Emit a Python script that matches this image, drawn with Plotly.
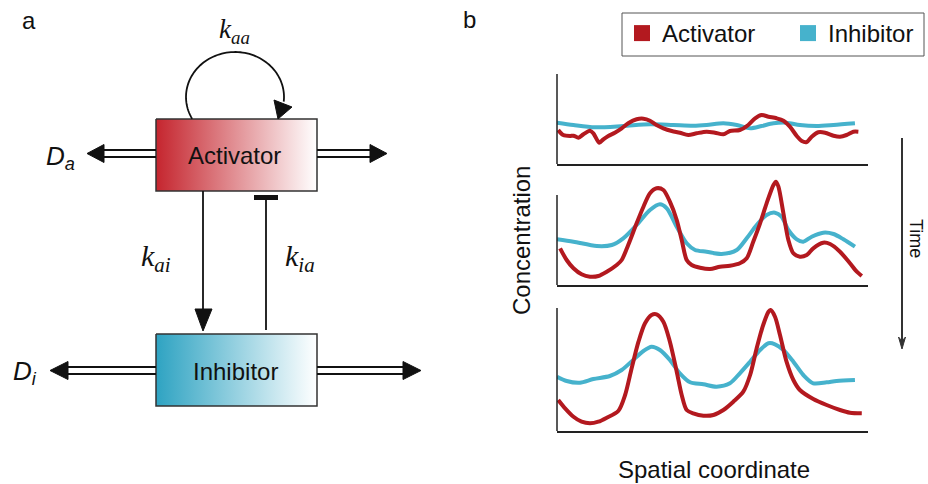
import numpy as np
import plotly.graph_objects as go

# ---------------- data (panel b) ----------------
# spatial coordinate runs 0..100, concentration in arbitrary units
x_act_t1 = [0.4, 2.0, 4.2, 5.3, 6.9, 8.5, 10.6, 11.7, 13.6, 14.9, 16.5, 18.6, 20.8, 22.9, 25.6,
            27.8, 29.9, 32.0, 34.2, 36.9, 39.5, 42.2, 44.9, 48.1, 50.8, 53.5, 55.6, 58.8, 61.5,
            63.7, 65.8, 68.0, 70.6, 72.8, 74.9, 77.1, 78.7, 80.3, 81.9, 84.0, 86.2, 88.9, 91.0,
            93.1, 95.3, 96.9]
y_act_t1 = [34, 29, 28, 28.3, 26.3, 29.7, 33.3, 30.7, 21.3, 24.7, 28, 31.3, 35.7, 40.7, 44.7,
            45.3, 43.3, 39, 35.7, 33, 31.3, 29, 30.7, 32.3, 31.3, 29.7, 33, 34, 39,
            45.7, 49, 47.3, 45.7, 43.3, 37.3, 28, 23, 22, 27.3, 31.7, 31.3, 28.3, 27.3,
            29, 32.3, 32.3]
x_inh_t1 = [0, 5.3, 12.2, 21.3, 29.9, 37.4, 43.8, 48.1, 53.5, 57.8, 62.1, 65.8, 69.6, 73.8,
            78.1, 83.5, 88.9, 95.8]
y_inh_t1 = [41.3, 39, 36.7, 38, 39.7, 39, 38.3, 39, 40.7, 39, 35.7, 38, 40.7, 41.3,
            39, 38, 39, 40.7]

x_act_t2 = [1.0, 3.1, 5.3, 7.9, 10.6, 13.3, 16.0, 19.2, 20.8, 22.9, 25.6, 27.8, 29.9, 32.0, 34.2,
            36.3, 38.5, 40.1, 41.7, 43.3, 46.0, 49.2, 52.4, 55.6, 58.8, 61.0, 63.1, 65.3, 67.4,
            69.6, 70.4, 71.2, 72.8, 74.4, 76.0, 78.1, 80.3, 82.4, 85.6, 87.8, 91.0, 94.2, 96.4, 98.0]
y_act_t2 = [36.7, 25, 16.7, 10.7, 8.3, 9, 13.3, 20, 25, 40, 61.7, 78.3, 91.7, 96.7, 95,
            83.3, 65, 45, 25, 20, 17.3, 16, 18.3, 19.3, 21.7, 26.7, 43.3, 61.7, 81.7,
            100, 103.3, 98.3, 71.7, 45, 31.7, 28.3, 30, 36.7, 42.3, 41, 33.3, 21.7, 13.3, 9]
x_inh_t2 = [0, 5.3, 12.8, 17.6, 21.3, 25.6, 29.9, 33.1, 35.3, 38.5, 41.7, 44.4, 48.1, 52.9,
            57.8, 61.0, 64.2, 67.4, 70.1, 72.2, 74.4, 77.1, 79.2, 81.9, 85.6, 88.9, 92.1, 95.8]
y_inh_t2 = [45.7, 43.3, 39, 40, 46.7, 60, 75, 80.7, 76.7, 58.3, 41.7, 35, 33.3, 31,
            35, 46.7, 60, 70, 72.3, 68.3, 55, 45.7, 43.3, 48.3, 52.3, 51, 45.7, 38.3]

x_act_t3 = [0.4, 2.6, 5.3, 7.9, 10.6, 13.3, 16.0, 19.7, 21.9, 24.0, 26.2, 28.3, 30.4, 32.0, 34.2,
            36.3, 38.5, 40.1, 41.7, 43.8, 47.1, 50.3, 53.5, 56.7, 59.9, 62.1, 64.2, 66.3, 68.0,
            68.7, 70.1, 71.7, 73.8, 76.0, 78.1, 82.4, 86.7, 91.0, 94.2, 98.0]
y_act_t3 = [31, 22.7, 14.3, 9.3, 7.7, 9.3, 13.3, 20, 36, 62.7, 89.3, 107.7, 116, 116.7, 109.3,
            89.3, 59.3, 36, 21, 17.7, 15.3, 16, 21, 29.3, 39.3, 56, 82.7, 106, 119.3,
            121, 114.3, 96, 69.3, 51, 41, 32, 26, 21, 18.3, 17.7]
x_inh_t3 = [0, 3.1, 7.4, 11.7, 17.0, 20.8, 24.5, 27.8, 30.4, 33.1, 36.3, 39.5, 42.8, 47.1,
            51.3, 55.6, 58.8, 62.1, 65.3, 68.0, 70.1, 72.8, 76.0, 79.2, 82.4, 86.7, 89.9, 95.8]
y_inh_t3 = [54.3, 50, 48.3, 52, 55, 61, 71, 80, 84.3, 81, 71, 57.7, 48.7, 46.7,
            44.3, 47.7, 57.7, 69.3, 81, 87.7, 86.7, 81, 69.3, 56, 47.7, 48.7, 50, 51]

series_names = ["Activator", "Inhibitor"]
axis_titles = ["Spatial coordinate", "Concentration", "Time"]
panel_labels = ["a", "b"]
node_labels = ["Activator", "Inhibitor"]

# ---------------- style ----------------
W, H = 928, 484
RED = "#B3191F"
BLUE = "#46B2CC"
AXC = "#222222"
SANS = "Liberation Sans, Arial, Helvetica, sans-serif"
SERIF = "Liberation Serif, Times New Roman, serif"

fig = go.Figure()

panels = [
    (x_act_t1, y_act_t1, x_inh_t1, y_inh_t1),
    (x_act_t2, y_act_t2, x_inh_t2, y_inh_t2),
    (x_act_t3, y_act_t3, x_inh_t3, y_inh_t3),
]
# pixel layout of the three panels (bottom px, top px of plot area), y-range, axis-line top
X_DOM = [557 / W, 868 / W]
panel_geom = [
    (164, 74, 90, 90),
    (285, 179, 106, 90),
    (431, 308, 123, 123),
]

shapes = []
for i, ((xa, ya, xi, yi), (bot, top, yr, ytop)) in enumerate(zip(panels, panel_geom), start=1):
    s = "" if i == 1 else str(i)
    fig.add_trace(go.Scatter(x=xi, y=yi, mode="lines", line=dict(color=BLUE, width=4, shape="spline", smoothing=0.8),
                             xaxis="x" + s, yaxis="y" + s, showlegend=False, hoverinfo="skip"))
    fig.add_trace(go.Scatter(x=xa, y=ya, mode="lines", line=dict(color=RED, width=4, shape="spline", smoothing=0.8),
                             xaxis="x" + s, yaxis="y" + s, showlegend=False, hoverinfo="skip"))
    fig.layout["xaxis" + s] = dict(domain=X_DOM, range=[0, 100], anchor="y" + s, showline=True,
                                   linecolor=AXC, linewidth=1.5, showticklabels=False, ticks="",
                                   showgrid=False, zeroline=False, fixedrange=True)
    fig.layout["yaxis" + s] = dict(domain=[1 - bot / H, 1 - top / H], range=[0, yr], anchor="x" + s,
                                   showline=False, showticklabels=False, ticks="",
                                   showgrid=False, zeroline=False, fixedrange=True)
    shapes.append(dict(type="line", xref="x" + s + " domain", yref="y" + s, x0=0, x1=0, y0=0, y1=ytop,
                       line=dict(color=AXC, width=1.5)))

# legend entries (squares), one legend per entry so the spacing matches
for name, col, lg in zip(series_names, [RED, BLUE], ["legend", "legend2"]):
    fig.add_trace(go.Scatter(x=[None], y=[None], mode="markers", name=name, legend=lg,
                             marker=dict(symbol="square", size=17, color=col), xaxis="x", yaxis="y"))
# legend frame
shapes.append(dict(type="rect", xref="paper", yref="paper", x0=622 / W, x1=924 / W,
                   y0=1 - 56 / H, y1=1 - 13 / H, line=dict(color="#555555", width=1)))

# ---------------- diagram (panel a) on a full-page pixel axis ----------------
fig.layout["xaxis4"] = dict(domain=[0, 1], range=[0, W], anchor="y4", visible=False, fixedrange=True)
fig.layout["yaxis4"] = dict(domain=[0, 1], range=[H, 0], anchor="x4", visible=False, fixedrange=True)

def box(x0, x1, y0, y1, c0):
    fig.add_trace(go.Scatter(x=[x0, x1, x1, x0, x0], y=[y0, y0, y1, y1, y0], mode="lines",
                             fill="toself",
                             fillgradient=dict(type="horizontal", colorscale=[[0, c0], [1, "#FFFFFF"]]),
                             line=dict(color="#333333", width=1.5), xaxis="x4", yaxis="y4",
                             showlegend=False, hoverinfo="skip"))

box(156, 317, 119, 191, "#C5252E")
box(156, 317, 334, 406, "#2EA3C2")

def ln(x0, y0, x1, y1, w=1.8, c="#111111"):
    shapes.append(dict(type="line", xref="x4", yref="y4", x0=x0, y0=y0, x1=x1, y1=y1,
                       line=dict(color=c, width=w)))

def tri(pts, c="#111111"):
    p = "M " + " L ".join(f"{x},{y}" for x, y in pts) + " Z"
    shapes.append(dict(type="path", xref="x4", yref="y4", path=p, fillcolor=c,
                       line=dict(color=c, width=1)))

def dbl(xa, xb, yc, tip, base, hh=9):
    ln(xa, yc - 3.5, xb, yc - 3.5, 2)
    ln(xa, yc + 3.5, xb, yc + 3.5, 2)
    tri([(tip, yc), (base, yc - hh), (base, yc + hh)])

# diffusion arrows
dbl(104, 156, 153.5, 87, 104)
dbl(317, 370, 153.5, 387, 370)
dbl(68, 156, 370.5, 50, 68)
dbl(317, 403, 370.5, 421, 403)

# activation arrow a -> i
ln(203, 191, 203, 312)
tri([(203, 331), (195, 309), (212, 309)])
# inhibition i -| a
ln(266, 200, 266, 330)
shapes.append(dict(type="rect", xref="x4", yref="y4", x0=254, x1=278, y0=195, y1=200,
                   fillcolor="#111111", line=dict(width=0)))
# self-activation loop
t = np.deg2rad(np.linspace(151, 366, 80))
xs = 235 + 49 * np.cos(t)
ys = 97 + 45 * np.sin(t)
shapes.append(dict(type="path", xref="x4", yref="y4",
                   path="M " + " L ".join(f"{a:.2f},{b:.2f}" for a, b in zip(xs, ys)),
                   line=dict(color="#111111", width=1.8)))
tri([(274, 100), (292, 107), (278, 119)])

# time arrow
ln(902, 138, 902, 345, 2, "#333333")
shapes.append(dict(type="path", xref="x4", yref="y4",
                   path="M 898.5,337 L 902,349 L 905.5,337 L 902,341 Z",
                   fillcolor="#333333", line=dict(color="#333333", width=1)))

ann = []
def txt(x, y, s, size, fam=SANS, **kw):
    ann.append(dict(x=x, y=y, xref="x4", yref="y4", text=s, showarrow=False,
                    font=dict(size=size, family=fam, color="#111111"), **kw))

txt(29, 20, panel_labels[0], 24)
txt(469, 19, panel_labels[1], 24)
txt(234, 155, node_labels[0], 24)
txt(235, 371, node_labels[1], 24)
txt(60, 157, "<i>D</i><sub><i>a</i></sub>", 26)
txt(25, 372, "<i>D</i><sub><i>i</i></sub>", 26)
txt(234, 31, "<i>k</i><sub><i>aa</i></sub>", 27, SERIF)
txt(156, 258, "<i>k</i><sub><i>ai</i></sub>", 30, SERIF)
txt(300, 258, "<i>k</i><sub><i>ia</i></sub>", 30, SERIF)
txt(714, 469, axis_titles[0], 24)
txt(521, 241, axis_titles[1], 24, textangle=-90)
txt(916, 238, axis_titles[2], 18, textangle=90)

leg_common = dict(orientation="h", xanchor="left", y=1 - 11 / H, yanchor="top",
                  borderwidth=0, bgcolor="rgba(0,0,0,0)",
                  font=dict(size=24, family=SANS, color="#111111"))
fig.update_layout(
    shapes=shapes,
    annotations=ann,
    width=W, height=H,
    margin=dict(l=0, r=0, t=0, b=0),
    paper_bgcolor="white",
    plot_bgcolor="rgba(0,0,0,0)",
    font=dict(family=SANS, color="#111111"),
    showlegend=True,
    legend=dict(x=622 / W, **leg_common),
    legend2=dict(x=788 / W, **leg_common),
)

fig.write_html("out.html")
